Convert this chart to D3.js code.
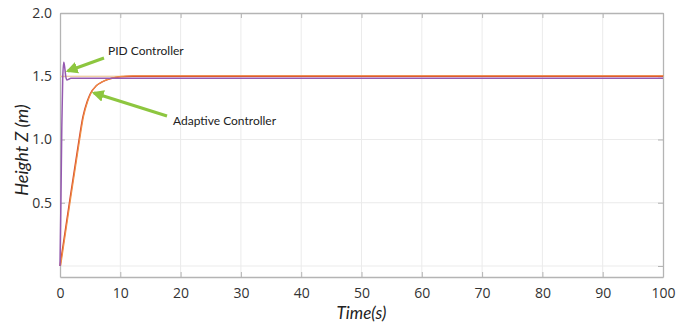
<!DOCTYPE html>
<html lang="en">
<head>
    <meta charset="UTF-8">
    <title>height response</title>
    <script src="https://d3js.org/d3.v7.min.js"></script>
    <style>
        body { margin: 0; background: #fff; }
        text { font-family: Lato, "Open Sans", sans-serif; }
    </style>
</head>
<body>
    <script>
        // values
        let xTicks = [0, 10, 20, 30, 40, 50, 60, 70, 80, 90, 100];
        let yTicks = [0.5, 1.0, 1.5, 2.0];
        let yGrid = [0, 0.5, 1.0, 1.5];

        let pidTime = [0, 0.15, 0.3, 0.45, 0.62, 0.78, 0.95, 1.15, 1.4, 1.8, 2.5, 100];
        let pidZ    = [0, 0.5, 1.1, 1.48, 1.61, 1.57, 1.5, 1.47, 1.475, 1.485, 1.485, 1.485];

        let adaptTime = [0, 1.4, 3.0, 3.8, 4.5, 5, 6, 7, 8, 9, 10, 12, 100];
        let adaptZ    = [0, 0.45, 0.95, 1.18, 1.3, 1.36, 1.425, 1.455, 1.475, 1.488, 1.495, 1.5, 1.5];

        let refTime = [0, 100];
        let refZ = [1.5, 1.5];

        let width = 688;
        let height = 328;
        let margin = {top: 13, right: 25, bottom: 51, left: 60};

        let x = d3.scaleLinear()
            .domain([0, 100])
            .range([margin.left, width - margin.right]);

        let y = d3.scaleLinear()
            .domain([-0.087, 2.0])
            .range([height - margin.bottom, margin.top]);

        let svg = d3.select('body').append('svg')
            .attr('width', width)
            .attr('height', height);

        // grid
        svg.append('g').selectAll('line').data(xTicks.slice(1, -1)).enter().append('line')
            .attr('x1', d => x(d)).attr('x2', d => x(d))
            .attr('y1', y.range()[1]).attr('y2', y.range()[0])
            .style('stroke', '#ebebeb');
        svg.append('g').selectAll('line').data(yGrid).enter().append('line')
            .attr('x1', x.range()[0]).attr('x2', x.range()[1])
            .attr('y1', d => y(d)).attr('y2', d => y(d))
            .style('stroke', '#ebebeb');

        // axes with inward ticks
        let bottomAxis = svg.append('g')
            .attr('transform', `translate(0,${y.range()[0]})`)
            .call(d3.axisBottom(x).tickValues(xTicks).tickSizeInner(-5).tickSizeOuter(0).tickPadding(11));
        let topAxis = svg.append('g')
            .attr('transform', `translate(0,${y.range()[1]})`)
            .call(d3.axisTop(x).tickValues(xTicks).tickSizeInner(-5).tickSizeOuter(0).tickFormat(''));
        let leftAxis = svg.append('g')
            .attr('transform', `translate(${x.range()[0]},0)`)
            .call(d3.axisLeft(y).tickValues(yTicks).tickSizeInner(-5).tickSizeOuter(0).tickPadding(8)
                .tickFormat(d3.format('.1f')));
        let rightAxis = svg.append('g')
            .attr('transform', `translate(${x.range()[1]},0)`)
            .call(d3.axisRight(y).tickValues([0].concat(yTicks)).tickSizeInner(-5).tickSizeOuter(0).tickFormat(''));

        [bottomAxis, topAxis, leftAxis, rightAxis].forEach(g => {
            g.select('.domain').style('stroke', '#b4b4b4').style('stroke-width', 1.3);
            g.selectAll('.tick line').style('stroke', '#b4b4b4');
            g.selectAll('.tick text').style('font-size', '14px').style('fill', '#333')
                .style('font-family', '"Open Sans", sans-serif');
        });

        // lines
        let line = d3.line().x(d => x(d[0])).y(d => y(d[1])).curve(d3.curveMonotoneX);

        svg.append('path')
            .datum(d3.zip(refTime, refZ))
            .attr('d', line)
            .style('fill', 'none').style('stroke', '#f1c48c').style('stroke-width', 1.2);

        svg.append('path')
            .datum(d3.zip(adaptTime, adaptZ))
            .attr('d', line)
            .style('fill', 'none').style('stroke', '#d64a2e').style('stroke-width', 1.4);
        svg.append('path')
            .datum(d3.zip(adaptTime, adaptZ))
            .attr('d', line)
            .attr('transform', 'translate(0.7,-0.5)')
            .style('fill', 'none').style('stroke', '#ef8d45').style('stroke-width', 1.2);

        svg.append('path')
            .datum(d3.zip(pidTime, pidZ))
            .attr('d', line)
            .style('fill', 'none').style('stroke', '#9559b0').style('stroke-width', 1.5);

        // annotations
        let defs = svg.append('defs');
        defs.append('marker')
            .attr('id', 'head')
            .attr('viewBox', '0 0 10 10')
            .attr('refX', 8).attr('refY', 5)
            .attr('markerWidth', 4).attr('markerHeight', 4)
            .attr('orient', 'auto')
            .append('path').attr('d', 'M0,0 L10,5 L0,10 Z').style('fill', '#8dc63f');

        svg.append('line')
            .attr('x1', 104).attr('x2', 68)
            .attr('y1', 58).attr('y2', 71)
            .style('stroke', '#8dc63f').style('stroke-width', 3)
            .attr('marker-end', 'url(#head)');
        svg.append('line')
            .attr('x1', 167).attr('x2', 94)
            .attr('y1', 116).attr('y2', 93)
            .style('stroke', '#8dc63f').style('stroke-width', 3)
            .attr('marker-end', 'url(#head)');

        svg.append('text').attr('x', 108).attr('y', 55)
            .text('PID Controller')
            .style('font-size', '12px').style('fill', '#222');
        svg.append('text').attr('x', 173).attr('y', 125)
            .text('Adaptive Controller')
            .style('font-size', '12px').style('fill', '#222');

        // axis titles
        svg.append('text')
            .attr('transform', `translate(28,${(y.range()[0] + y.range()[1]) / 2 + 5}) rotate(-90)`)
            .attr('text-anchor', 'middle')
            .text('Height Z (m)')
            .style('font-size', '18px').style('font-style', 'italic').style('fill', '#222');
        svg.append('text')
            .attr('x', (x.range()[0] + x.range()[1]) / 2).attr('y', 319)
            .attr('text-anchor', 'middle')
            .text('Time(s)')
            .style('font-size', '17px').style('font-style', 'italic').style('fill', '#222');
    </script>
</body>
</html>
